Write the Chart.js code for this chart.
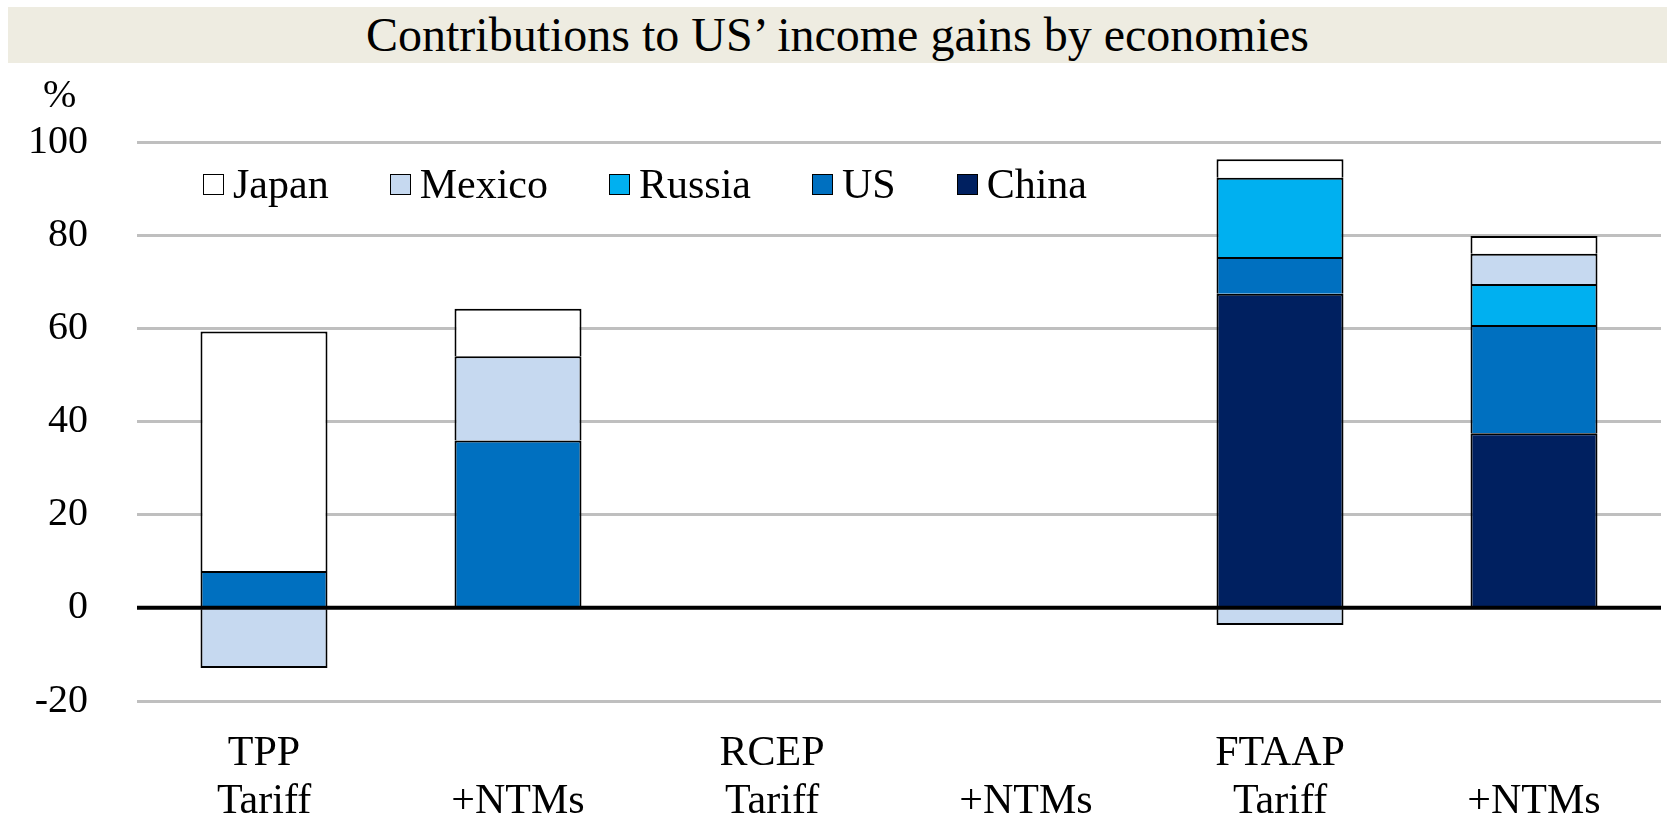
<!DOCTYPE html>
<html>
<head>
<meta charset="utf-8">
<title>Contributions to US’ income gains by economies</title>
<script src="https://cdn.jsdelivr.net/npm/chart.js@4"></script>
<style>
    html, body { margin: 0; padding: 0; background: #fff; }
    body { width: 1667px; height: 818px; position: relative; overflow: hidden;
           font-family: 'Liberation Serif', 'Times New Roman', serif; color: #000; }
    #chart { position: absolute; left: 0; top: 0; }
    #title { position: absolute; left: 8px; top: 7px; right: 0; height: 56px; line-height: 56px;
             background: #EEECE1; font-size: 48px; text-align: center; }
    #unit { position: absolute; left: 43px; top: 74px; font-size: 40px; line-height: 40px; }
    #legend { position: absolute; left: 203px; top: 160px; display: flex; gap: 61px;
              font-size: 42px; line-height: 48px; }
    .item { display: flex; align-items: center; }
    .box { width: 19px; height: 19px; border: 1px solid #000; margin-right: 9px; }
</style>
</head>
<body>
<canvas id="chart" width="1667" height="818"></canvas>
<div id="title">Contributions to US’ income gains by economies</div>
<div id="unit">%</div>
<div id="legend"></div>
<script>
// categorías (dos líneas por etiqueta)
const categories = [['TPP', 'Tariff'], ['', '+NTMs'], ['RCEP', 'Tariff'], ['', '+NTMs'], ['FTAAP', 'Tariff'], ['', '+NTMs']];

// contribuciones en % (orden de apilado: de abajo hacia arriba)
const chinaVals  = [null, null, null, null, 67.4, 37.5];
const usVals     = [7.9, 35.9, null, null, 7.9, 23.2];
const russiaVals = [null, null, null, null, 17.0, 8.8];
const mexicoVals = [-12.9, 18.1, null, null, -3.7, 6.5];
const japanVals  = [51.4, 10.2, null, null, 4.0, 3.8];

const yMin = -20, yMax = 100, yStep = 20;

const series = [
    { label: 'China',  data: chinaVals,  color: '#002060' },
    { label: 'US',     data: usVals,     color: '#0070C0' },
    { label: 'Russia', data: russiaVals, color: '#00B0F0' },
    { label: 'Mexico', data: mexicoVals, color: '#C6D9F0' },
    { label: 'Japan',  data: japanVals,  color: '#FFFFFF' }
];

Chart.defaults.font.family = "'Liberation Serif', 'Times New Roman', serif";
Chart.defaults.color = '#000';

// línea del cero por encima de las barras
const zeroLine = {
    id: 'zeroLine',
    afterDatasetsDraw(chart) {
        const { ctx, chartArea, scales } = chart;
        const y = scales.y.getPixelForValue(0);
        ctx.save();
        ctx.strokeStyle = '#000';
        ctx.lineWidth = 4;
        ctx.beginPath();
        ctx.moveTo(chartArea.left, y);
        ctx.lineTo(chartArea.right, y);
        ctx.stroke();
        ctx.restore();
    }
};

new Chart(document.getElementById('chart').getContext('2d'), {
    type: 'bar',
    data: {
        labels: categories,
        datasets: series.map(s => ({
            label: s.label, data: s.data, backgroundColor: s.color,
            borderColor: '#000', borderWidth: 2, borderSkipped: 'start',
            categoryPercentage: 1, barPercentage: 0.5
        }))
    },
    options: {
        responsive: false, animation: false, devicePixelRatio: 1,
        layout: { padding: { top: 142, right: 6, left: 0, bottom: 0 } },
        plugins: { legend: { display: false }, tooltip: { enabled: false } },
        scales: {
            x: {
                stacked: true,
                grid: { display: false, drawTicks: false },
                border: { display: false },
                ticks: { font: { size: 42, lineHeight: 1.143 }, padding: 29, maxRotation: 0, autoSkip: false },
                afterFit: (s) => { s.height = 117; }
            },
            y: {
                stacked: true, min: yMin, max: yMax,
                grid: { color: '#BFBFBF', lineWidth: 3, drawTicks: false },
                border: { display: false },
                ticks: { stepSize: yStep, font: { size: 40 }, padding: 49 },
                afterFit: (s) => { s.width = 137; }
            }
        }
    },
    plugins: [zeroLine]
});

// leyenda (orden inverso al apilado)
const legend = document.getElementById('legend');
series.slice().reverse().forEach(s => {
    const it = document.createElement('div');
    it.className = 'item';
    it.innerHTML = `<span class="box" style="background:${s.color}"></span><span>${s.label}</span>`;
    legend.appendChild(it);
});
</script>
</body>
</html>
